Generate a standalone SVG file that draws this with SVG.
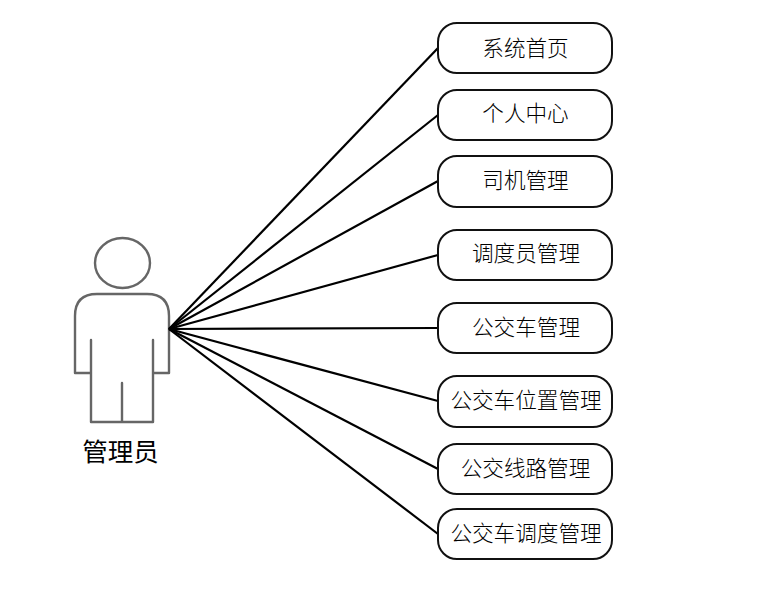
<svg xmlns="http://www.w3.org/2000/svg" width="766" height="611" viewBox="0 0 766 611">
<style>
.box{fill:#fff;stroke:#111;stroke-width:2}
.link{stroke:#000;stroke-width:2.200;fill:none}
.act{fill:none;stroke:#666;stroke-width:2.400;stroke-linejoin:round;stroke-linecap:round}
.t{font-family:"Noto Sans CJK SC","Liberation Sans",sans-serif;font-size:21.6px;font-weight:300;text-anchor:middle;fill:#000}
.a{font-family:"Noto Sans CJK SC","Liberation Sans",sans-serif;font-size:25.500px;text-anchor:middle;fill:#000}
</style>
<rect width="766" height="611" fill="#fff"/>
<g id="actor">
<ellipse class="act" cx="122.500" cy="263" rx="27.500" ry="25"/>
<path class="act" d="M91 340V373H75V316Q75 294 97 294H147Q169 294 169 316V373H153V340M91 373V422H153V373M122 383V422"/>
<text class="a" x="120.500" y="460.500">管理员</text>
</g>
<g id="connectors">
<path class="link" d="M169 329L438 48"/>
<path class="link" d="M169 329L438 115"/>
<path class="link" d="M169 329L438 181"/>
<path class="link" d="M169 329L438 255"/>
<path class="link" d="M169 329L438 328"/>
<path class="link" d="M169 329L438 401"/>
<path class="link" d="M169 329L438 469"/>
<path class="link" d="M169 329L438 534"/>
</g>
<g id="n1"><rect class="box" x="438" y="23" width="174" height="50" rx="19"/><text class="t" x="525.500" y="55.500">系统首页</text></g>
<g id="n2"><rect class="box" x="438" y="90" width="174" height="50" rx="19"/><text class="t" x="525.500" y="121">个人中心</text></g>
<g id="n3"><rect class="box" x="438" y="156" width="174" height="51" rx="19"/><text class="t" x="525.500" y="188">司机管理</text></g>
<g id="n4"><rect class="box" x="438" y="230" width="174" height="50" rx="19"/><text class="t" x="526" y="261">调度员管理</text></g>
<g id="n5"><rect class="box" x="438" y="303" width="174" height="50" rx="19"/><text class="t" x="526" y="335">公交车管理</text></g>
<g id="n6"><rect class="box" x="438" y="376" width="174" height="51" rx="19"/><text class="t" x="526" y="408">公交车位置管理</text></g>
<g id="n7"><rect class="box" x="438" y="444" width="174" height="50" rx="19"/><text class="t" x="525.500" y="476">公交线路管理</text></g>
<g id="n8"><rect class="box" x="438" y="509" width="174" height="50" rx="19"/><text class="t" x="526" y="541">公交车调度管理</text></g>
</svg>
